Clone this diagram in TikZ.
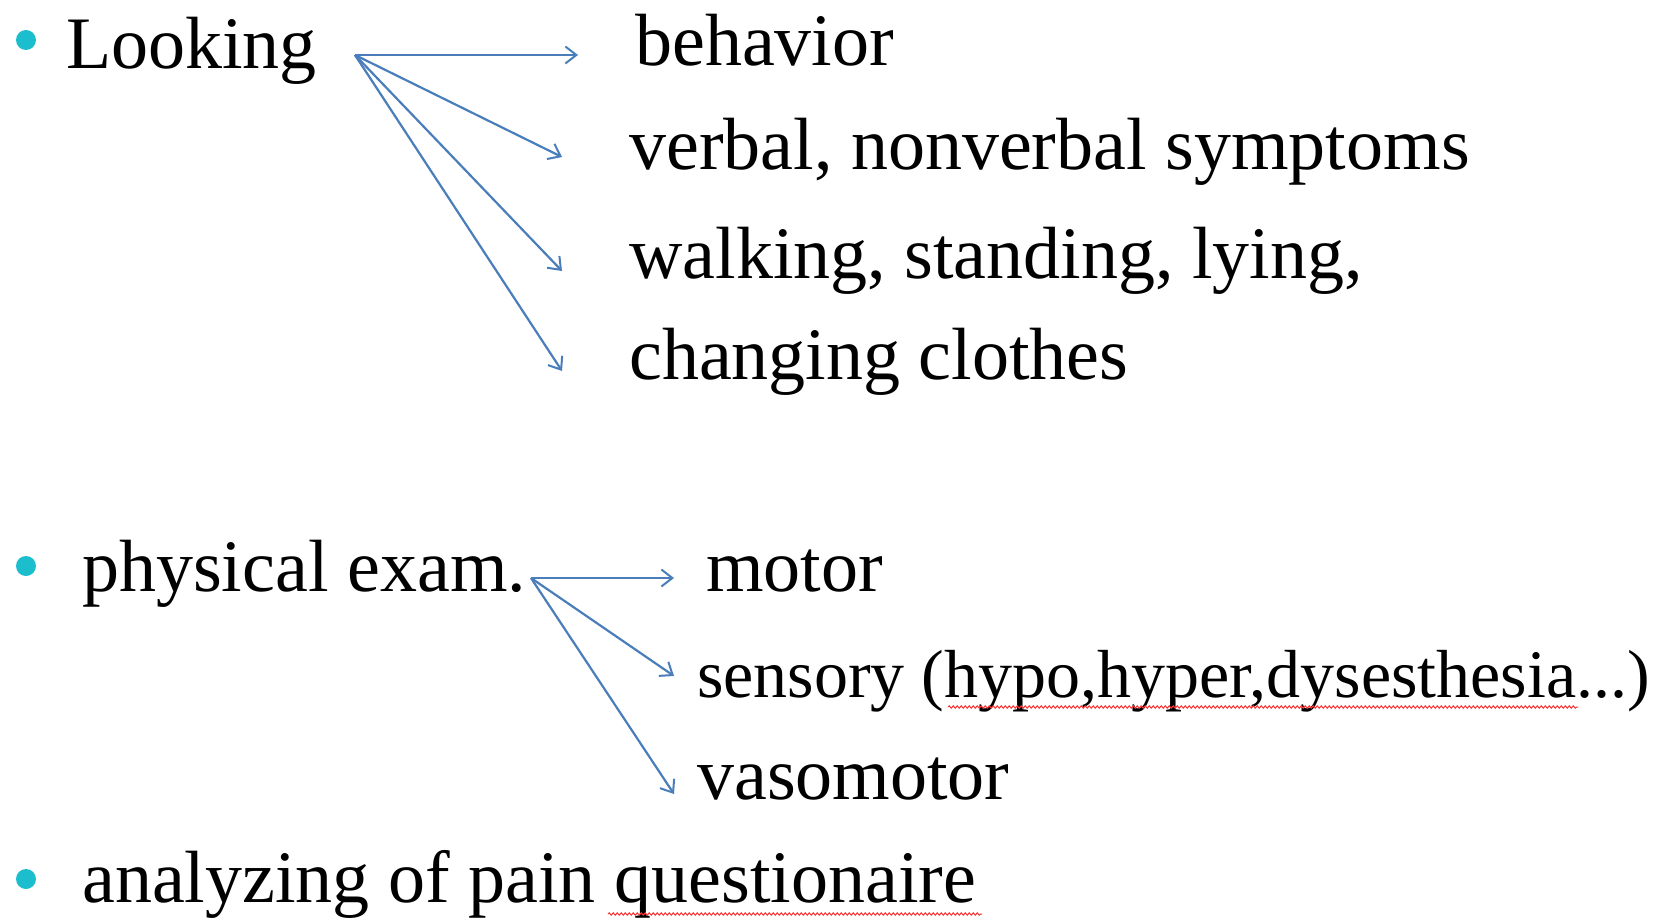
\documentclass[tikz,border=0pt]{standalone}
\usepackage{fontspec}
\setmainfont{Liberation Serif}
\usetikzlibrary{arrows.meta,decorations.pathmorphing}
\definecolor{bulletcyan}{RGB}{28,190,205}
\definecolor{arrowblue}{RGB}{74,126,187}
\begin{document}
\begin{tikzpicture}[x=1pt,y=-1pt,
 item/.style={inner sep=0pt,anchor=base west,font=\fontsize{74}{80}\selectfont},
 dot/.style={fill=bulletcyan,draw=none},
 arr/.style={draw=arrowblue,line width=2.2pt,-{Straight Barb[length=11pt,width=17pt,line width=2pt]}},
 spell/.style={draw=red!80!white,line width=1pt,decorate,decoration={snake,amplitude=1.2pt,segment length=4pt}}]
 \useasboundingbox[fill=white] (0,0) rectangle (1664,920);
 \fill[dot] (26,40) circle (10) (26,566) circle (10) (26,879) circle (10);
 \node[item] (look) at (66,69) {Looking};
 \node[item] (beh) at (635,66) {behavior};
 \node[item] (verb) at (629,170) {verbal, nonverbal symptoms};
 \node[item] (walk) at (629,278) {walking, standing, lying,};
 \node[item] (chg) at (629,379) {changing clothes};
 \node[item] (phys) at (82,591) {physical exam.};
 \node[item] (mot) at (706,591) {motor};
 \node[item,font=\fontsize{68}{74}\selectfont] (sens) at (697,697) {sensory (hypo,hyper,dysesthesia...)};
 \node[item] (vaso) at (697,799) {vasomotor};
 \node[item] (ana) at (82,902) {analyzing of pain questionaire};
 \coordinate (lk) at (355,55);
 \coordinate (t1) at (578,55);
 \coordinate (t2) at (562,157);
 \coordinate (t3) at (562,271);
 \coordinate (t4) at (562,371);
 \coordinate (pe) at (531,578);
 \coordinate (u1) at (674,578);
 \coordinate (u2) at (674,676);
 \coordinate (u3) at (674,794);
 \foreach \t in {t1,t2,t3,t4} \draw[arr] (lk) -- (\t);
 \foreach \u in {u1,u2,u3} \draw[arr] (pe) -- (\u);
 \draw[spell] (948,707) -- (1578,707);
 \draw[spell] (608,914) -- (982,914);
\end{tikzpicture}
\end{document}
